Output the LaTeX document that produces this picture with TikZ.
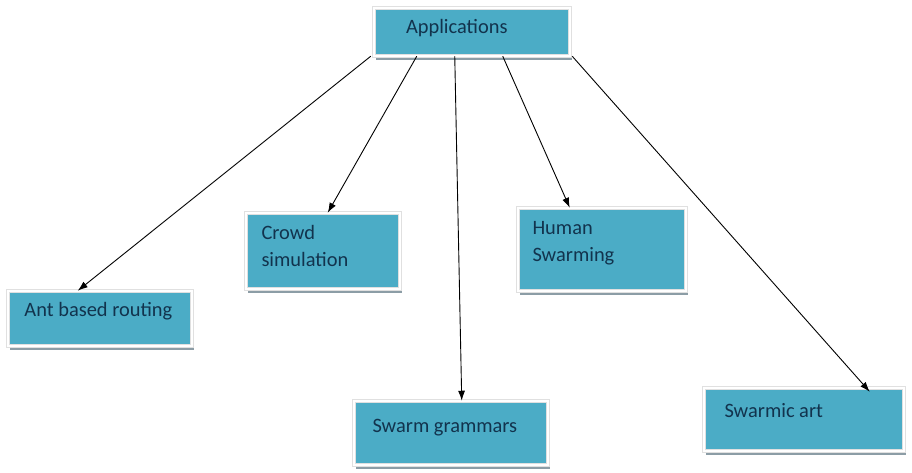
\documentclass[tikz,border=0pt]{standalone}
\usepackage{fontspec}
\setmainfont{Carlito}
\usetikzlibrary{arrows.meta, shadows}
\definecolor{boxteal}{HTML}{4BACC6}
\definecolor{boxtext}{HTML}{12334D}
\definecolor{boxshade}{HTML}{8C9DA6}

\begin{document}
\begin{tikzpicture}[x=1bp, y=-1bp, >={Latex[length=10bp, width=7bp]},
  appbox/.style={draw=black!12, double=white, double distance=2.4bp,
    line width=0.5bp, fill=boxteal, text=boxtext,
    font=\fontsize{20.5}{27}\selectfont, align=left,
    execute at begin node={\spaceskip=0pt\xspaceskip=0pt\hyphenpenalty=10000\relax},
    inner ysep=0bp, text height=14bp,
    drop shadow={shadow xshift=2bp, shadow yshift=-4bp,
                 fill=boxshade, opacity=1}},
  link/.style={->, line width=0.9bp}]
  \useasboundingbox (0,0) rectangle (912,473);

  % boxes
  \node[appbox, minimum width=196bp, minimum height=48bp,
        inner xsep=32bp, text width=132bp, text depth=10bp]
    (app) at (472,32) {Applications};
  \node[appbox, minimum width=184bp, minimum height=55bp,
        inner xsep=16.5bp, text width=151bp, text depth=17bp]
    (ant) at (100,318.5) {Ant based routing};
  \node[appbox, minimum width=154bp, minimum height=76bp,
        inner xsep=15.5bp, text width=123bp, text depth=36bp]
    (crowd) at (323,251) {Crowd\\simulation};
  \node[appbox, minimum width=168bp, minimum height=83bp,
        inner xsep=14.5bp, text width=139bp, text depth=43bp]
    (human) at (602,249.5) {Human\\Swarming};
  \node[appbox, minimum width=194bp, minimum height=64bp,
        inner xsep=18.5bp, text width=157bp, text depth=16bp]
    (grammar) at (451,433) {Swarm grammars};
  \node[appbox, minimum width=200bp, minimum height=63bp,
        inner xsep=20.5bp, text width=159bp, text depth=19bp]
    (art) at (804,419.5) {Swarmic art};

  % links
  \draw[link] ([xshift=-3bp]app.south west) -- ([xshift=70bp]ant.north west);
  \draw[link] ([xshift=43bp]app.south west) -- ([xshift=82bp]crowd.north west);
  \draw[link] ([xshift=81bp]app.south west) -- ([xshift=108bp]grammar.north west);
  \draw[link] ([xshift=129bp]app.south west) -- ([xshift=52bp]human.north west);
  \draw[link] ([xshift=2bp]app.south east) -- ([xshift=166bp, yshift=-4bp]art.north west);
\end{tikzpicture}
\end{document}
